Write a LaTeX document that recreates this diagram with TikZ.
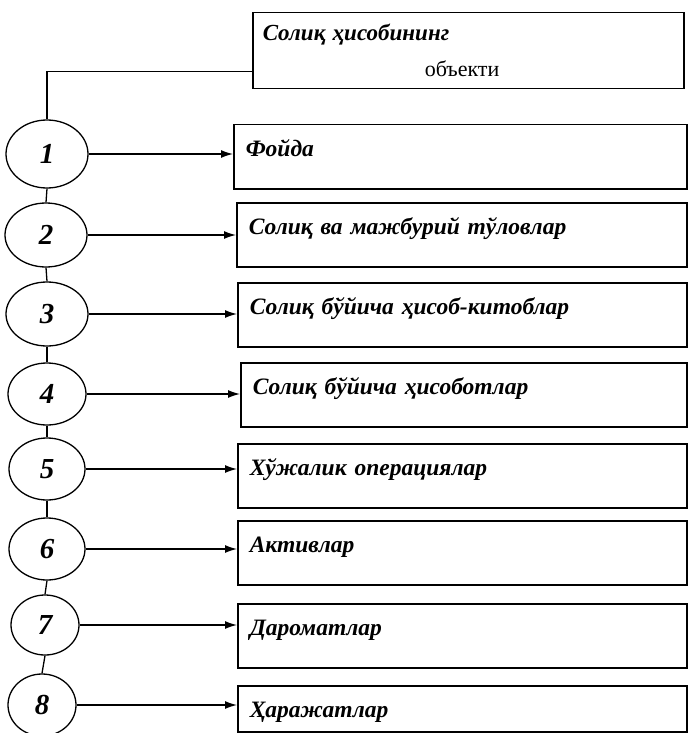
\documentclass[tikz,border=0pt]{standalone}
\usepackage{fontspec}
\setmainfont{Liberation Serif}
\usetikzlibrary{shapes.geometric,arrows.meta}
\begin{document}
\begin{tikzpicture}[x=1pt,y=-1pt,
  every node/.style={font=\fontsize{22}{26}\selectfont},
  item/.style={draw,line width=1.5pt,anchor=north west,align=left,
    text width=#1,inner xsep=12pt,inner ysep=5pt,
    text height=27pt,text depth=27pt,
    font=\fontsize{23.5}{28}\selectfont\bfseries\itshape},
  item/.default=426pt,
  num/.style={ellipse,draw,line width=1.3pt,inner sep=0pt,
    font=\fontsize{29}{32}\selectfont\bfseries\itshape},
  link/.style={line width=1.3pt},
  feed/.style={line width=1.3pt,-{Latex[length=12pt,width=8pt]}}
]
\useasboundingbox (0,0) rectangle (689,733);

% heading box
\node[draw,line width=1.5pt,anchor=north west,align=left,text width=411pt,
      inner xsep=10pt,minimum height=76pt] (top) at (252,12)
  {{\fontsize{23}{26}\selectfont\bfseries\itshape Солиқ ҳисобининг}\\[10pt]\hspace*{162pt}объекти};

% numbered ellipses
\node[num,minimum width=82pt,minimum height=68pt] (e1) at (47,154) {1};
\node[num,minimum width=82pt,minimum height=64pt] (e2) at (46,235) {2};
\node[num,minimum width=82pt,minimum height=64pt] (e3) at (47,314) {3};
\node[num,minimum width=78pt,minimum height=62pt] (e4) at (47,394) {4};
\node[num,minimum width=76pt,minimum height=62pt] (e5) at (47,469) {5};
\node[num,minimum width=76pt,minimum height=62pt] (e6) at (47,549) {6};
\node[num,minimum width=68pt,minimum height=60pt] (e7) at (45,625) {7};
\node[num,minimum width=68pt,minimum height=62pt] (e8) at (42,705) {8};

% item boxes
\node[item=429pt] (b1) at (233,124) {Фойда};
\node[item] (b2) at (236,202) {Солиқ ва мажбурий тўловлар};
\node[item=425pt] (b3) at (237,282) {Солиқ бўйича ҳисоб-китоблар};
\node[item=422pt] (b4) at (240,362) {Солиқ бўйича ҳисоботлар};
\node[item=425pt] (b5) at (237,443) {Хўжалик операциялар};
\node[item=425pt] (b6) at (237,520) {Активлар};
\node[item=425pt] (b7) at (237,603) {Дароматлар};
\node[item=425pt,text depth=9pt] (b8) at (237,685) {Ҳаражатлар};

% spine
\draw[link] ([yshift=18pt]top.south west) -| (e1.north);
\foreach \a/\b in {e1/e2,e2/e3,e3/e4,e4/e5,e5/e6,e6/e7,e7/e8}
  \draw[link] (\a.south) -- (\b.north);

% arrows to the boxes
\foreach \i in {1,...,8}
  \draw[feed] (e\i.east) -- (e\i.east -| b\i.west);
\end{tikzpicture}
\end{document}
